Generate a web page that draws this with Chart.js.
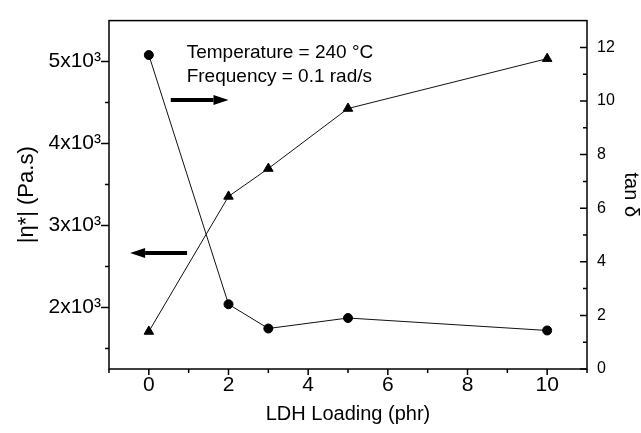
<!DOCTYPE html>
<html>
<head>
<meta charset="utf-8">
<script src="https://cdn.jsdelivr.net/npm/chart.js@4"></script>
<style>
  html, body { margin: 0; padding: 0; background: #fff; }
  canvas { display: block; }
</style>
</head>
<body>
<canvas id="rheoChart" width="641" height="433"></canvas>
<script>
const loading = [0, 2, 3, 5, 10];                     // phr
const viscosity = [5080, 2040, 1744, 1872, 1720];      // |eta*| (Pa.s)
const tanDelta = [1.40, 6.44, 7.48, 9.72, 11.58];      // tan delta

// tick positions; labelled ones get text, the rest are minor marks
const xTicks = [-1, 0, 1, 2, 3, 4, 5, 6, 7, 8, 9, 10, 11];
const xLabels = [0, 2, 4, 6, 8, 10];
const yTicks = [1500, 2000, 2500, 3000, 3500, 4000, 4500, 5000];
const yLabels = [2000, 3000, 4000, 5000];
const y1Ticks = [0, 1, 2, 3, 4, 5, 6, 7, 8, 9, 10, 11, 12];
const y1Labels = [0, 2, 4, 6, 8, 10, 12];

const noteLines = ['Temperature = 240 \u00B0C', 'Frequency = 0.1 rad/s'];

const FONT = '"Liberation Sans", Arial, sans-serif';

const setTicks = list => s => { s.ticks = list.map(v => ({ value: v })); };

// frame, tick marks, arrows and the note text
const decorations = {
  id: 'decorations',
  afterDraw(chart) {
    const { ctx, chartArea: a, scales } = chart;
    const sx = scales.x, sy = scales.y, sy1 = scales.y1;
    ctx.save();
    ctx.strokeStyle = '#000';
    ctx.lineWidth = 1.5;
    ctx.strokeRect(a.left, a.top, a.right - a.left, a.bottom - a.top);

    ctx.beginPath();
    sx.ticks.forEach(t => {
      const p = sx.getPixelForValue(t.value);
      const len = xLabels.includes(t.value) ? 6 : 4;
      ctx.moveTo(p, a.bottom);
      ctx.lineTo(p, a.bottom + len);
    });
    sy.ticks.forEach(t => {
      const p = sy.getPixelForValue(t.value);
      const len = yLabels.includes(t.value) ? 8 : 4;
      ctx.moveTo(a.left - len, p);
      ctx.lineTo(a.left, p);
    });
    sy1.ticks.forEach(t => {
      const p = sy1.getPixelForValue(t.value);
      const len = y1Labels.includes(t.value) ? 7 : 4;
      ctx.moveTo(a.right - len, p);
      ctx.lineTo(a.right, p);
    });
    ctx.stroke();

    // arrows pointing at each series' axis
    function arrow(x0, x1, yv) {
      const px0 = sx.getPixelForValue(x0);
      const px1 = sx.getPixelForValue(x1);
      const py = Math.round(sy.getPixelForValue(yv));
      const dir = Math.sign(px1 - px0);
      const head = 15;
      ctx.fillStyle = '#000';
      ctx.fillRect(Math.min(px0, px1 - dir * head), py - 2, Math.abs(px1 - dir * head - px0), 4);
      ctx.beginPath();
      ctx.moveTo(px1, py);
      ctx.lineTo(px1 - dir * head, py - 5);
      ctx.lineTo(px1 - dir * head, py + 5);
      ctx.closePath();
      ctx.fill();
    }
    arrow(0.55, 2.0, 4531);
    arrow(0.96, -0.47, 2663);

    ctx.fillStyle = '#000';
    ctx.font = '19px ' + FONT;
    ctx.textAlign = 'left';
    ctx.textBaseline = 'alphabetic';
    const tx = sx.getPixelForValue(0.95);
    ctx.fillText(noteLines[0], tx, sy.getPixelForValue(5041));
    ctx.fillText(noteLines[1], tx, sy.getPixelForValue(4752));
    ctx.restore();
  }
};

new Chart(document.getElementById('rheoChart').getContext('2d'), {
  type: 'line',
  data: {
    datasets: [
      {
        label: '|η*|',
        data: loading.map((x, i) => ({ x, y: viscosity[i] })),
        yAxisID: 'y',
        borderColor: '#111',
        borderWidth: 1,
        backgroundColor: '#000',
        pointBackgroundColor: '#000',
        pointBorderColor: '#000',
        pointStyle: 'circle',
        pointRadius: 4.5,
        tension: 0
      },
      {
        label: 'tan δ',
        data: loading.map((x, i) => ({ x, y: tanDelta[i] })),
        yAxisID: 'y1',
        borderColor: '#111',
        borderWidth: 1,
        backgroundColor: '#000',
        pointBackgroundColor: '#000',
        pointBorderColor: '#000',
        pointStyle: 'triangle',
        pointRadius: 5.5,
        tension: 0
      }
    ]
  },
  options: {
    responsive: false,
    animation: false,
    devicePixelRatio: 1,
    layout: { padding: { top: 15, left: 0, right: 0, bottom: 0 } },
    plugins: {
      legend: { display: false },
      tooltip: { enabled: false }
    },
    scales: {
      x: {
        type: 'linear',
        position: 'bottom',
        min: -1,
        max: 11,
        grid: { display: false, drawTicks: false },
        border: { display: false },
        afterBuildTicks: setTicks(xTicks),
        ticks: {
          autoSkip: false,
          maxRotation: 0,
          padding: 4,
          color: '#000',
          font: { family: FONT, size: 21 },
          callback: v => xLabels.includes(v) ? String(v) : ''
        },
        title: {
          display: true,
          text: 'LDH Loading (phr)',
          color: '#000',
          font: { family: FONT, size: 20, lineHeight: 1.2 },
          padding: { top: 0, bottom: 7 }
        },
        afterFit(s) { s.height = 64; }
      },
      y: {
        type: 'linear',
        position: 'left',
        min: 1250,
        max: 5500,
        grid: { display: false, drawTicks: false },
        border: { display: false },
        afterBuildTicks: setTicks(yTicks),
        ticks: {
          autoSkip: false,
          padding: 8,
          color: '#000',
          font: { family: FONT, size: 21 },
          callback: v => yLabels.includes(v) ? (v / 1000) + 'x10\u00B3' : ''
        },
        title: {
          display: true,
          text: '|η*| (Pa.s)',
          color: '#000',
          font: { family: FONT, size: 22, lineHeight: 1 },
          padding: { top: 16, bottom: 0 }
        },
        afterFit(s) { s.width = 109; }
      },
      y1: {
        type: 'linear',
        position: 'right',
        min: 0,
        max: 13,
        grid: { display: false, drawTicks: false },
        border: { display: false },
        afterBuildTicks: setTicks(y1Ticks),
        ticks: {
          autoSkip: false,
          padding: 10,
          color: '#000',
          font: { family: FONT, size: 16 },
          callback: v => y1Labels.includes(v) ? String(v) : ''
        },
        title: {
          display: true,
          text: 'tan δ',
          color: '#000',
          font: { family: FONT, size: 20, lineHeight: 1 },
          padding: { top: 0, bottom: 0 }
        },
        afterFit(s) { s.width = 54; }
      }
    }
  },
  plugins: [decorations]
});
</script>
</body>
</html>
